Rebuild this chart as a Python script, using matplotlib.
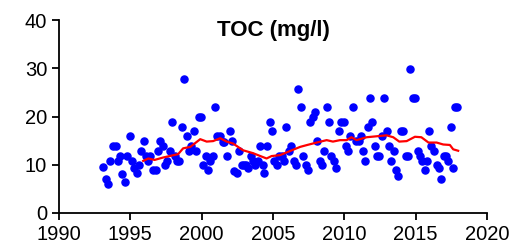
import matplotlib
matplotlib.use("Agg")
from matplotlib import pyplot as plt

plt.rcParams['font.family'] = ['Liberation Sans', 'DejaVu Sans']

# muestras de TOC (año decimal, mg/l)
anios = [1993.10, 1993.27, 1993.46, 1993.60, 1993.80, 1994.00, 1994.13, 1994.30, 1994.44, 1994.60,
         1994.80, 1994.95, 1995.10, 1995.28, 1995.44, 1995.60, 1995.77, 1995.93, 1996.10, 1996.26,
         1996.40, 1996.60, 1996.80, 1996.94, 1997.10, 1997.26, 1997.45, 1997.60, 1997.80, 1997.94,
         1998.10, 1998.27, 1998.43, 1998.60, 1998.76, 1998.95, 1999.10, 1999.27, 1999.44, 1999.60,
         1999.80, 1999.95, 2000.10, 2000.27, 2000.45, 2000.60, 2000.79, 2000.95, 2001.10, 2001.30,
         2001.47, 2001.60, 2001.80, 2001.96, 2002.10, 2002.30, 2002.45, 2002.60, 2002.80, 2002.95,
         2003.10, 2003.27, 2003.43, 2003.60, 2003.76, 2003.93, 2004.10, 2004.27, 2004.40, 2004.60,
         2004.80, 2004.95, 2005.10, 2005.28, 2005.45, 2005.60, 2005.77, 2005.93, 2006.10, 2006.28,
         2006.45, 2006.60, 2006.77, 2006.93, 2007.10, 2007.30, 2007.45, 2007.60, 2007.78, 2007.94,
         2008.10, 2008.27, 2008.45, 2008.60, 2008.78, 2008.94, 2009.10, 2009.30, 2009.45, 2009.60,
         2009.78, 2009.95, 2010.10, 2010.27, 2010.43, 2010.60, 2010.80, 2011.00, 2011.14, 2011.28,
         2011.44, 2011.63, 2011.80, 2011.96, 2012.14, 2012.30, 2012.45, 2012.63, 2012.80, 2012.96,
         2013.13, 2013.28, 2013.45, 2013.60, 2013.78, 2013.94, 2014.13, 2014.30, 2014.46, 2014.62,
         2014.78, 2014.97, 2015.13, 2015.30, 2015.46, 2015.63, 2015.79, 2015.95, 2016.10, 2016.30,
         2016.47, 2016.63, 2016.80, 2016.96, 2017.12, 2017.28, 2017.45, 2017.60, 2017.75, 2017.90]
toc = [9.6, 7.0, 6.1, 10.8, 13.9, 13.9, 10.8, 11.9, 8.1, 6.5,
       11.9, 15.9, 10.8, 9.4, 8.3, 9.9, 12.9, 14.9, 11.9, 10.8,
       11.9, 8.9, 9.0, 12.9, 14.9, 13.9, 9.9, 10.8, 12.9, 18.9,
       11.9, 10.8, 10.8, 17.9, 27.8, 15.9, 12.9, 13.9, 16.9, 12.9,
       19.9, 19.9, 9.9, 11.9, 9.0, 10.8, 11.9, 21.9, 15.9, 15.9,
       14.8, 14.8, 11.9, 16.9, 14.9, 8.7, 8.3, 12.9, 9.9, 9.9,
       9.9, 9.4, 11.9, 10.8, 9.9, 10.8, 13.9, 9.9, 8.3, 13.9,
       18.9, 16.9, 10.8, 9.9, 11.9, 11.9, 10.8, 17.9, 12.9, 13.9,
       10.8, 9.9, 25.8, 21.9, 11.9, 9.9, 9.0, 18.9, 19.9, 20.9,
       14.9, 10.8, 9.9, 12.9, 21.9, 18.9, 11.9, 10.8, 9.4, 16.9,
       18.9, 18.9, 13.9, 12.9, 15.9, 21.9, 14.9, 14.9, 15.9, 12.9,
       10.8, 17.9, 23.9, 18.9, 13.9, 11.9, 11.9, 15.9, 23.9, 16.9,
       13.9, 10.8, 12.9, 9.0, 7.7, 16.9, 16.9, 11.9, 11.9, 29.8,
       23.9, 23.9, 12.9, 11.9, 10.8, 9.0, 10.8, 16.9, 13.9, 12.9,
       9.9, 9.4, 7.0, 11.9, 11.9, 10.8, 17.9, 9.4, 21.9, 21.9]

# media movil
anios_mm = [1995.9, 1996.26, 1996.7, 1997.3, 1998.35, 1998.7, 1999.2, 1999.9, 2000.35, 2000.8,
            2001.3, 2001.75, 2002.2, 2002.9, 2003.6, 2004.2, 2004.55, 2004.9, 2005.5, 2006.07,
            2006.9, 2007.4, 2008.06, 2008.76, 2009.2, 2009.7, 2010.16, 2010.5, 2010.86, 2011.56,
            2012.26, 2012.96, 2013.43, 2013.85, 2014.37, 2014.95, 2015.4, 2015.9, 2016.47, 2016.93,
            2017.4, 2017.63, 2017.98]
toc_mm = [10.8, 11.3, 11.0, 11.5, 12.2, 13.4, 13.7, 15.3, 14.8, 14.9,
          15.5, 14.8, 14.4, 13.0, 12.4, 11.7, 11.3, 11.8, 12.0, 12.7,
          13.7, 14.1, 14.6, 15.1, 14.8, 15.1, 15.1, 15.7, 15.1, 15.7,
          15.9, 16.1, 15.7, 14.8, 14.9, 15.8, 15.7, 14.6, 14.6, 14.2,
          14.1, 13.2, 12.9]

fig = plt.figure(figsize=(5.15, 2.5), dpi=100)
ax = fig.add_axes([0.1146, 0.148, 0.831, 0.772])
ax.scatter(anios, toc, s=26, color='#0000ff', zorder=2)
ax.plot(anios_mm, toc_mm, color='#ff0000', linewidth=1.6, zorder=3)

ax.set_xlim(1990, 2020)
ax.set_ylim(0, 40)
ax.set_xticks(range(1990, 2021, 5))
ax.set_yticks(range(0, 41, 10))
ax.spines['top'].set_visible(False)
ax.spines['right'].set_visible(False)
ax.spines['left'].set_linewidth(1.3)
ax.spines['bottom'].set_linewidth(1.3)
ax.tick_params(labelsize=14.5, width=1.3, length=5, direction='out')
ax.text(0.5, 1.0, "TOC (mg/l)", transform=ax.transAxes, ha='center', va='top',
        fontsize=16, fontweight='bold')

fig.savefig("out.png", dpi=100)
